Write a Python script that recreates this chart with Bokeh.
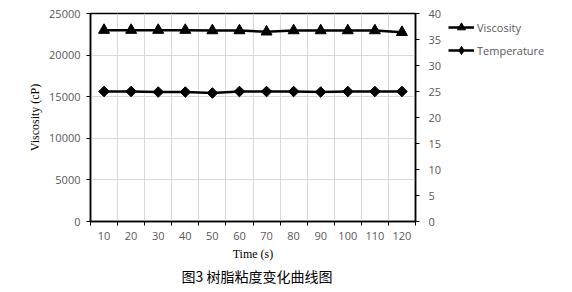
import math
from bokeh.plotting import figure
from bokeh.layouts import row
from bokeh.models import (Range1d, LinearAxis, FixedTicker, Legend, LegendItem, Title)
from bokeh.embed import file_html
from bokeh.resources import INLINE

times = [10, 20, 30, 40, 50, 60, 70, 80, 90, 100, 110, 120]
viscosity = [23000, 23000, 23000, 23000, 22950, 22950, 22800, 22950, 22950, 22950, 22950, 22750]
temperature = [25.0, 25.0, 24.9, 24.9, 24.7, 25.0, 25.0, 25.0, 24.9, 25.0, 25.0, 25.0]
visc_ticks = [0, 5000, 10000, 15000, 20000, 25000]
temp_ticks = [0, 5, 10, 15, 20, 25, 30, 35, 40]

TICK_FONT = "Open Sans"
TICK_COLOR = "#595959"

boundaries = [t - 5 for t in times] + [times[-1] + 5]

p = figure(width=444, height=292, output_backend="svg", toolbar_location=None,
           x_range=Range1d(times[0] - 5, times[-1] + 5),
           y_range=Range1d(0, 25000),
           min_border_left=90, min_border_right=28, min_border_top=13, min_border_bottom=71,
           y_axis_location=None, x_axis_location=None)
p.extra_y_ranges = {"temp": Range1d(0, 40)}
p.outline_line_color = "black"
p.outline_line_width = 1.5
p.background_fill_color = "white"
p.border_fill_color = "white"

# x axis
xaxis = LinearAxis(ticker=FixedTicker(ticks=times, minor_ticks=boundaries))
xaxis.axis_label = "Time (s)"
xaxis.axis_label_text_font = "Liberation Serif"
xaxis.axis_label_text_font_size = "12px"
xaxis.axis_label_text_font_style = "normal"
xaxis.axis_label_text_color = "black"
xaxis.axis_label_standoff = 4
xaxis.major_label_text_font = TICK_FONT
xaxis.major_label_text_font_size = "11px"
xaxis.major_label_text_color = TICK_COLOR
xaxis.major_label_standoff = 6
xaxis.major_tick_out = 0
xaxis.major_tick_in = 0
xaxis.minor_tick_out = 4
xaxis.minor_tick_in = 0
xaxis.minor_tick_line_color = "black"
xaxis.axis_line_color = "black"
xaxis.axis_line_width = 1.5
p.add_layout(xaxis, "below")

# left axis
yaxis = LinearAxis(ticker=FixedTicker(ticks=visc_ticks, minor_ticks=[]))
yaxis.axis_label = "Viscosity (cP)"
yaxis.axis_label_text_font = "Liberation Serif"
yaxis.axis_label_text_font_size = "12px"
yaxis.axis_label_text_font_style = "normal"
yaxis.axis_label_text_color = "black"
yaxis.axis_label_standoff = 4
yaxis.major_label_text_font = TICK_FONT
yaxis.major_label_text_font_size = "11px"
yaxis.major_label_text_color = TICK_COLOR
yaxis.major_label_standoff = 6
yaxis.major_tick_out = 4
yaxis.major_tick_in = 0
yaxis.axis_line_width = 1.5
p.add_layout(yaxis, "left")

# right axis
raxis = LinearAxis(y_range_name="temp", ticker=FixedTicker(ticks=temp_ticks, minor_ticks=[]))
raxis.major_label_text_font = TICK_FONT
raxis.major_label_text_font_size = "11px"
raxis.major_label_text_color = TICK_COLOR
raxis.major_label_standoff = 9
raxis.major_tick_out = 4
raxis.major_tick_in = 0
raxis.axis_line_width = 1.5
p.add_layout(raxis, "right")

# grids
p.xgrid.ticker = FixedTicker(ticks=boundaries[1:-1], minor_ticks=[])
p.ygrid.ticker = FixedTicker(ticks=visc_ticks[1:-1], minor_ticks=[])
p.xgrid.grid_line_color = "#d9d9d9"
p.ygrid.grid_line_color = "#d9d9d9"
p.xgrid.grid_line_width = 1
p.ygrid.grid_line_width = 1

# series
def draw(fig, visible=True, temp_marker="square", temp_angle=math.pi / 4, temp_size=7.5):
    vl = fig.line(times, viscosity, line_color="black", line_width=2.5, visible=visible)
    vm = fig.scatter(times, viscosity, marker="triangle", size=11, fill_color="black",
                     line_color="black", visible=visible)
    tl = fig.line(times, temperature, line_color="black", line_width=2.5,
                  y_range_name="temp", visible=visible)
    tm = fig.scatter(times, temperature, marker=temp_marker, angle=temp_angle, size=temp_size,
                     fill_color="black", line_color="black", y_range_name="temp", visible=visible)
    return vl, vm, tl, tm

draw(p)

caption = Title(text="图3 树脂粘度变化曲线图", align="left", offset=91,
                text_font="Noto Sans CJK SC", text_font_size="14px", text_color="black",
                text_font_style="normal", standoff=0)
p.add_layout(caption, "below")

# legend panel
q = figure(width=128, height=292, output_backend="svg", toolbar_location=None,
           x_range=Range1d(times[0] - 5, times[-1] + 5), y_range=Range1d(0, 25000),
           min_border_left=0, min_border_right=0, min_border_top=13, min_border_bottom=71,
           x_axis_location=None, y_axis_location=None)
q.extra_y_ranges = {"temp": Range1d(0, 40)}
q.outline_line_color = None
q.grid.visible = False
q.background_fill_color = "white"
q.border_fill_color = "white"
vl, vm, tl, tm = draw(q, visible=False, temp_marker="diamond", temp_angle=0, temp_size=10)

legend = Legend(items=[LegendItem(label="Viscosity", renderers=[vl, vm]),
                       LegendItem(label="Temperature", renderers=[tl, tm])],
                location="top_left", orientation="vertical",
                label_text_font=TICK_FONT, label_text_font_size="11px",
                label_text_color=TICK_COLOR, glyph_width=26, glyph_height=20,
                label_height=20, spacing=3, padding=0, margin=4,
                label_standoff=3, border_line_color=None, background_fill_alpha=0)
q.add_layout(legend, "center")

layout = row(p, q, spacing=0)
open("out.html", "w").write(file_html(layout, INLINE))
